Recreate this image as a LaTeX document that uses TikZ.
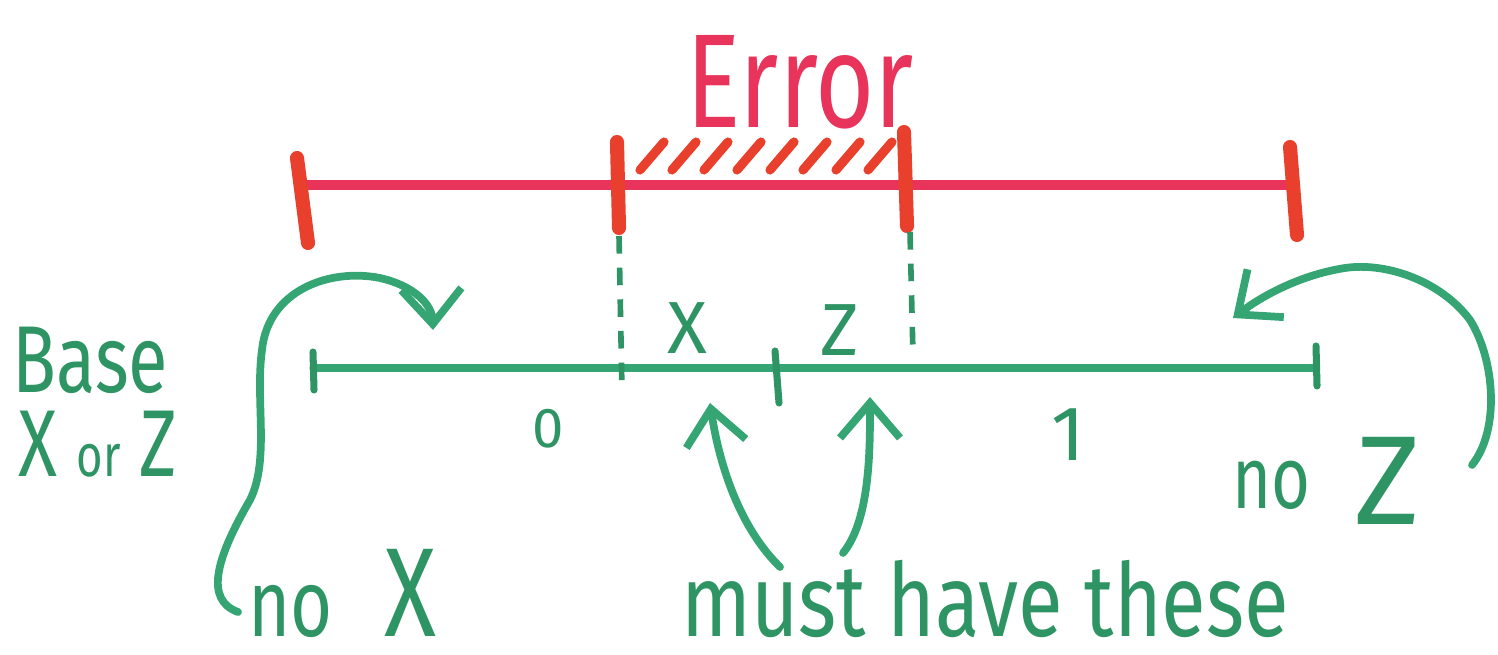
\documentclass[tikz,border=0pt]{standalone}
\usepackage{fontspec}
\setmainfont{Fira Sans}
\usetikzlibrary{arrows.meta}
\definecolor{redl}{HTML}{E8345A}
\definecolor{redt}{HTML}{E8402C}
\definecolor{grn}{HTML}{35A574}
\definecolor{grnd}{HTML}{2E9463}
\newcommand{\narrow}[1]{\scalebox{0.76}[1]{#1}}

\tikzset{
  redline/.style={redl,line width=3pt,line cap=round},
  redtick/.style={redt,line width=4pt,line cap=round},
  hatch/.style={redt,line width=2.6pt,line cap=round},
  grnline/.style={grn,line width=2pt,line cap=round},
  grntick/.style={grnd,line width=2pt,line cap=round},
  dotline/.style={grnd,line width=1.6pt,dash pattern=on 5pt off 4pt},
  curvearrow/.style={grn,line width=2.2pt,line cap=round,line join=round,
    -{Straight Barb[length=3.5mm,width=6mm,line width=2.2pt]}},
  hand/.style={grnd,inner sep=0pt,text depth=0pt}
}

\begin{document}
\begin{tikzpicture}[x=0.01cm,y=-0.01cm]
  \useasboundingbox (0,0) rectangle (1498,655);

  % error bar
  \node[redl,inner sep=0pt,anchor=base,font=\fontsize{38}{40}\selectfont] (err) at (800,128)
    {\narrow{Error}};
  \coordinate (rL) at (305,185);
  \coordinate (rR) at (1288,185);
  \coordinate (rA) at (617,185);
  \coordinate (rB) at (905,185);
  \draw[redline] (rL) -- (rR);
  \draw[redtick] (297,158) -- (308,243);
  \draw[redtick] (617,142) -- (619,228);
  \draw[redtick] (904,132) -- (907,226);
  \draw[redtick] (1290,147) -- (1297,235);
  \foreach \x in {640,672,704,737,770,803,836,868}
    \draw[hatch] (\x,170) -- (\x+24,142);

  % base line
  \coordinate (gL) at (313,368);
  \coordinate (gR) at (1316,368);
  \coordinate (gM) at (777,368);
  \draw[grnline] (gL) -- (gR);
  \draw[grntick] (313,352) -- (314,390);
  \draw[grntick] (1316,346) -- (1317,386);
  \draw[grntick] (775,351) -- (779,403);
  \draw[dotline] (619,236) -- (622,392);
  \draw[dotline] (910,232) -- (913,356);

  \node[hand,font=\fontsize{21}{23}\selectfont] (lx) at (687,328) {X};
  \node[hand,font=\fontsize{21}{23}\selectfont] (lz) at (840,330) {Z};
  \node[hand,font=\fontsize{16}{18}\selectfont] (l0) at (548,428) {0};
  \node[hand,font=\fontsize{22}{24}\selectfont] (l1) at (1068,435) {1};

  \node[hand,anchor=base west,font=\fontsize{27}{29}\selectfont] (base) at (12,392)
    {\narrow{Base}};
  \node[hand,anchor=base west,font=\fontsize{27}{29}\selectfont] (basexz) at (18,476)
    {\narrow{X {\fontsize{17}{19}\selectfont or} Z}};

  % notes below
  \node[hand,anchor=base west,font=\fontsize{27}{29}\selectfont] (noX) at (248,636)
    {\narrow{no \hspace{0.45em}{\fontsize{36}{38}\selectfont X}}};
  \node[hand,anchor=base west,font=\fontsize{25}{27}\selectfont] (noZ) at (1232,524)
    {\narrow{\raisebox{0.15cm}{no}}\hspace{0.5em}{\fontsize{36}{38}\selectfont Z}};
  \node[hand,anchor=base,font=\fontsize{29}{31}\selectfont] (must) at (985,636)
    {\scalebox{0.8}[1]{must have these}};

  % arrows
  \coordinate (noXs) at (238,612);
  \coordinate (noXt) at (433,330);
  \draw[curvearrow] (noXs) .. controls (205,600) and (215,560) .. (250,500)
    .. controls (270,460) and (255,400) .. (262,350)
    .. controls (268,290) and (330,268) .. (380,278)
    .. controls (415,286) and (432,305) .. (noXt);
  \coordinate (noZs) at (1472,465);
  \coordinate (noZt) at (1233,318);
  \draw[curvearrow] (noZs) .. controls (1500,430) and (1495,360) .. (1470,320)
    .. controls (1440,280) and (1385,262) .. (1345,268)
    .. controls (1300,275) and (1262,296) .. (noZt);
  \coordinate (mustA) at (780,567);
  \coordinate (mustB) at (843,553);
  \draw[curvearrow] (mustA) .. controls (742,530) and (720,470) .. (710,403);
  \draw[curvearrow] (mustB) .. controls (870,520) and (870,450) .. (870,397);
\end{tikzpicture}
\end{document}
